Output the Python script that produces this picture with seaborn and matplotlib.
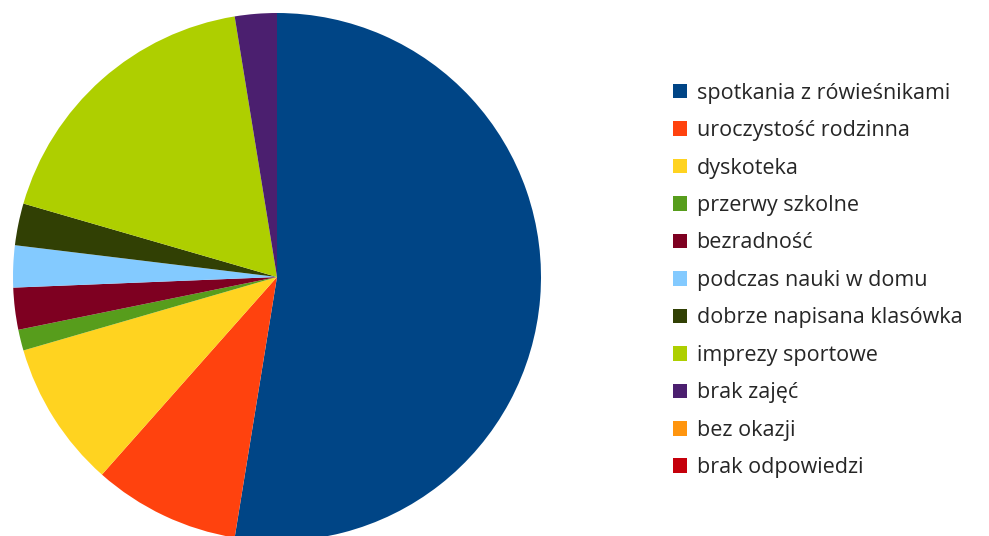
import matplotlib
matplotlib.use("Agg")
import matplotlib.pyplot as plt
from matplotlib.patches import Patch
import seaborn as sns

categories = [
    "spotkania z rówieśnikami",
    "uroczystość rodzinna",
    "dyskoteka",
    "przerwy szkolne",
    "bezradność",
    "podczas nauki w domu",
    "dobrze napisana klasówka",
    "imprezy sportowe",
    "brak zajęć",
    "bez okazji",
    "brak odpowiedzi",
]
values = [41, 7, 7, 1, 2, 2, 2, 14, 2, 0, 0]
colors = ["#004586", "#ff420e", "#ffd320", "#579d1c", "#7e0021", "#83caff",
          "#314004", "#aecf00", "#4b1f6f", "#ff950e", "#c5000b"]

sns.set_theme(style="white")
plt.rcParams["font.family"] = ["Open Sans", "DejaVu Sans"]
palette = sns.color_palette(colors)

W, H = 989, 536
fig = plt.figure(figsize=(W / 100, H / 100), dpi=100)
cx, cy, r = 277, 277, 264
ax = fig.add_axes([(cx - r) / W, (H - cy - r) / H, 2 * r / W, 2 * r / H])
ax.pie(values, colors=palette, startangle=90, counterclock=False, radius=1,
       wedgeprops=dict(linewidth=0))
ax.set_xlim(-1, 1)
ax.set_ylim(-1, 1)
ax.set_aspect("equal")
ax.axis("off")

handles = [Patch(facecolor=c, edgecolor="none") for c in palette]
fig.legend(handles, categories, loc="upper left",
           bbox_to_anchor=(664 / W, 1 - 74 / H), frameon=False,
           fontsize=15.5, handlelength=0.66, handleheight=0.66,
           handletextpad=0.45, labelspacing=0.765, borderaxespad=0)

fig.savefig("out.png", dpi=100)
